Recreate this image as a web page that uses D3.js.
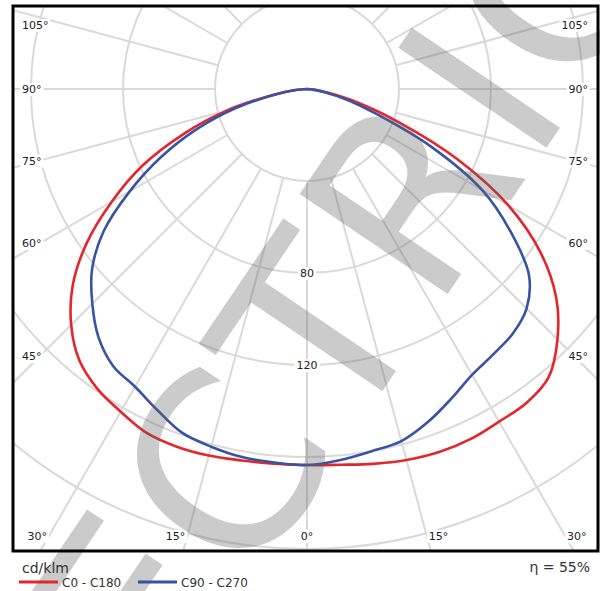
<!DOCTYPE html>
<html>
<head>
<meta charset="utf-8">
<script src="https://cdn.jsdelivr.net/npm/d3@7"></script>
<style>
  body { margin: 0; background: #fff; }
  svg { display: block; font-family: "DejaVu Sans", Verdana, sans-serif; }
</style>
</head>
<body>
<div id="chart"></div>
<script>
// gamma angles (deg from nadir) and intensities in cd/klm for each half plane
const gammaAngles = [0, 5, 10, 15, 20, 25, 30, 35, 40, 45, 50, 55, 60, 65, 70, 75, 80, 85, 90];
const c0 = [163.5, 164, 165.5, 167, 168, 168, 167, 166.5, 163.5, 154, 141.5, 124, 101, 72, 43, 23, 9, 3, 0];
const c180 = [163.5, 163.5, 164, 165, 165.5, 165, 162, 159, 154, 145, 133, 117, 98, 79, 57, 36, 15, 5, 0];
const c90 = [163.5, 162, 160, 158.5, 154, 148.5, 143.5, 141, 139, 135, 126, 108, 88, 60, 33, 18, 7, 2, 0];
const c270 = [163.5, 163, 162.5, 161, 159, 154, 149.5, 147, 141, 132, 122, 108, 89, 70, 51, 32, 14, 5, 0];

const gridValues = [40, 80, 120, 160, 200];
const valueLabels = [80, 120];
const sideLabels = [45, 60, 75, 90, 105];
const bottomLabels = [0, 15, 30];
const seriesNames = ["C0 - C180", "C90 - C270"];
const unitLabel = "cd/klm";
const efficiencyLabel = "η = 55%";
const watermark = "ELECTRIC";

const width = 600, height = 591;
const frame = { x: 13, y: 6, w: 585, h: 545 };
const cx = 307, cy = 89;
const colors = ["#e4262c", "#3953a4"];
const rad = Math.PI / 180;

const svg = d3.select("#chart").append("svg")
  .attr("width", width)
  .attr("height", height);

svg.append("rect").attr("width", width).attr("height", height).attr("fill", "#fff");

const r = d3.scaleLinear().domain([0, 200]).range([0, 460]);

svg.append("clipPath").attr("id", "plotClip")
  .append("rect")
  .attr("x", frame.x).attr("y", frame.y)
  .attr("width", frame.w).attr("height", frame.h);

const plot = svg.append("g").attr("clip-path", "url(#plotClip)");
const grid = plot.append("g").attr("transform", `translate(${cx},${cy})`)
  .attr("fill", "none").attr("stroke", "#d9d9d9").attr("stroke-width", 2);

grid.selectAll("circle").data(gridValues).enter().append("circle")
  .attr("r", (d) => r(d));

grid.selectAll("line").data(d3.range(0, 360, 15)).enter().append("line")
  .attr("x1", (d) => r(40) * Math.sin(d * rad))
  .attr("y1", (d) => r(40) * Math.cos(d * rad))
  .attr("x2", (d) => r(280) * Math.sin(d * rad))
  .attr("y2", (d) => r(280) * Math.cos(d * rad));

// watermark, spans the whole picture
svg.append("text")
  .attr("transform", "translate(553,138) rotate(-56)")
  .attr("x", -1009)
  .style("font-size", "245px")
  .style("letter-spacing", "6px")
  .attr("fill", "#646464")
  .attr("opacity", 0.33)
  .text(watermark);

// labels with white background
const labels = plot.append("g").style("font-size", "11px").attr("fill", "#222");
function addLabel(x, y, text, anchor) {
  const g = labels.append("g");
  const t = g.append("text").attr("x", x).attr("y", y)
    .attr("dy", "0.36em").attr("text-anchor", anchor).text(text);
  const b = t.node().getBBox();
  g.insert("rect", "text")
    .attr("x", b.x - 2).attr("y", b.y)
    .attr("width", b.width + 4).attr("height", b.height)
    .attr("fill", "#fff");
}

const inset = 267;
sideLabels.forEach((g) => {
  const y = Math.max(cy + inset * Math.cos(g * rad) / Math.sin(g * rad), 25);
  addLabel(22, y, `${g}°`, "start");
  addLabel(588, y, `${g}°`, "end");
});
const bottomY = 536;
bottomLabels.forEach((g) => {
  const dx = (bottomY - cy) * Math.tan(g * rad);
  if (g === 0) {
    addLabel(cx, bottomY, `${g}°`, "middle");
  } else {
    addLabel(cx - dx - 2, bottomY, `${g}°`, "end");
    addLabel(cx + dx + 2, bottomY, `${g}°`, "start");
  }
});
valueLabels.forEach((v) => addLabel(cx, cy + r(v), v, "middle"));

// curves
function halfPlanes(left, right) {
  const pts = [];
  for (let i = gammaAngles.length - 1; i >= 0; i--) {
    pts.push({ a: Math.PI + gammaAngles[i] * rad, v: left[i] });
  }
  for (let i = 1; i < gammaAngles.length; i++) {
    pts.push({ a: Math.PI - gammaAngles[i] * rad, v: right[i] });
  }
  return pts;
}

const line = d3.lineRadial()
  .angle((d) => d.a)
  .radius((d) => r(d.v))
  .curve(d3.curveCatmullRom.alpha(0.5));

const curves = plot.append("g").attr("transform", `translate(${cx},${cy})`);
[halfPlanes(c180, c0), halfPlanes(c270, c90)].forEach((pts, i) => {
  curves.append("path")
    .attr("d", line(pts))
    .attr("fill", "none")
    .attr("stroke", colors[i])
    .attr("stroke-width", 2.6);
});

// frame
svg.append("rect")
  .attr("x", frame.x).attr("y", frame.y)
  .attr("width", frame.w).attr("height", frame.h)
  .attr("fill", "none").attr("stroke", "#000").attr("stroke-width", 3);

// legend
svg.append("text").attr("x", 22).attr("y", 573)
  .style("font-size", "14px").attr("fill", "#333").text(unitLabel);
svg.append("text").attr("x", 590).attr("y", 572).attr("text-anchor", "end")
  .style("font-size", "14px").attr("fill", "#333").text(efficiencyLabel);

const legendX = [19, 138];
seriesNames.forEach((name, i) => {
  svg.append("line")
    .attr("x1", legendX[i]).attr("x2", legendX[i] + 39)
    .attr("y1", 582).attr("y2", 582)
    .attr("stroke", colors[i]).attr("stroke-width", 3);
  svg.append("text").attr("x", legendX[i] + 43).attr("y", 587)
    .style("font-size", "12px").attr("fill", "#333").text(name);
});
</script>
</body>
</html>
